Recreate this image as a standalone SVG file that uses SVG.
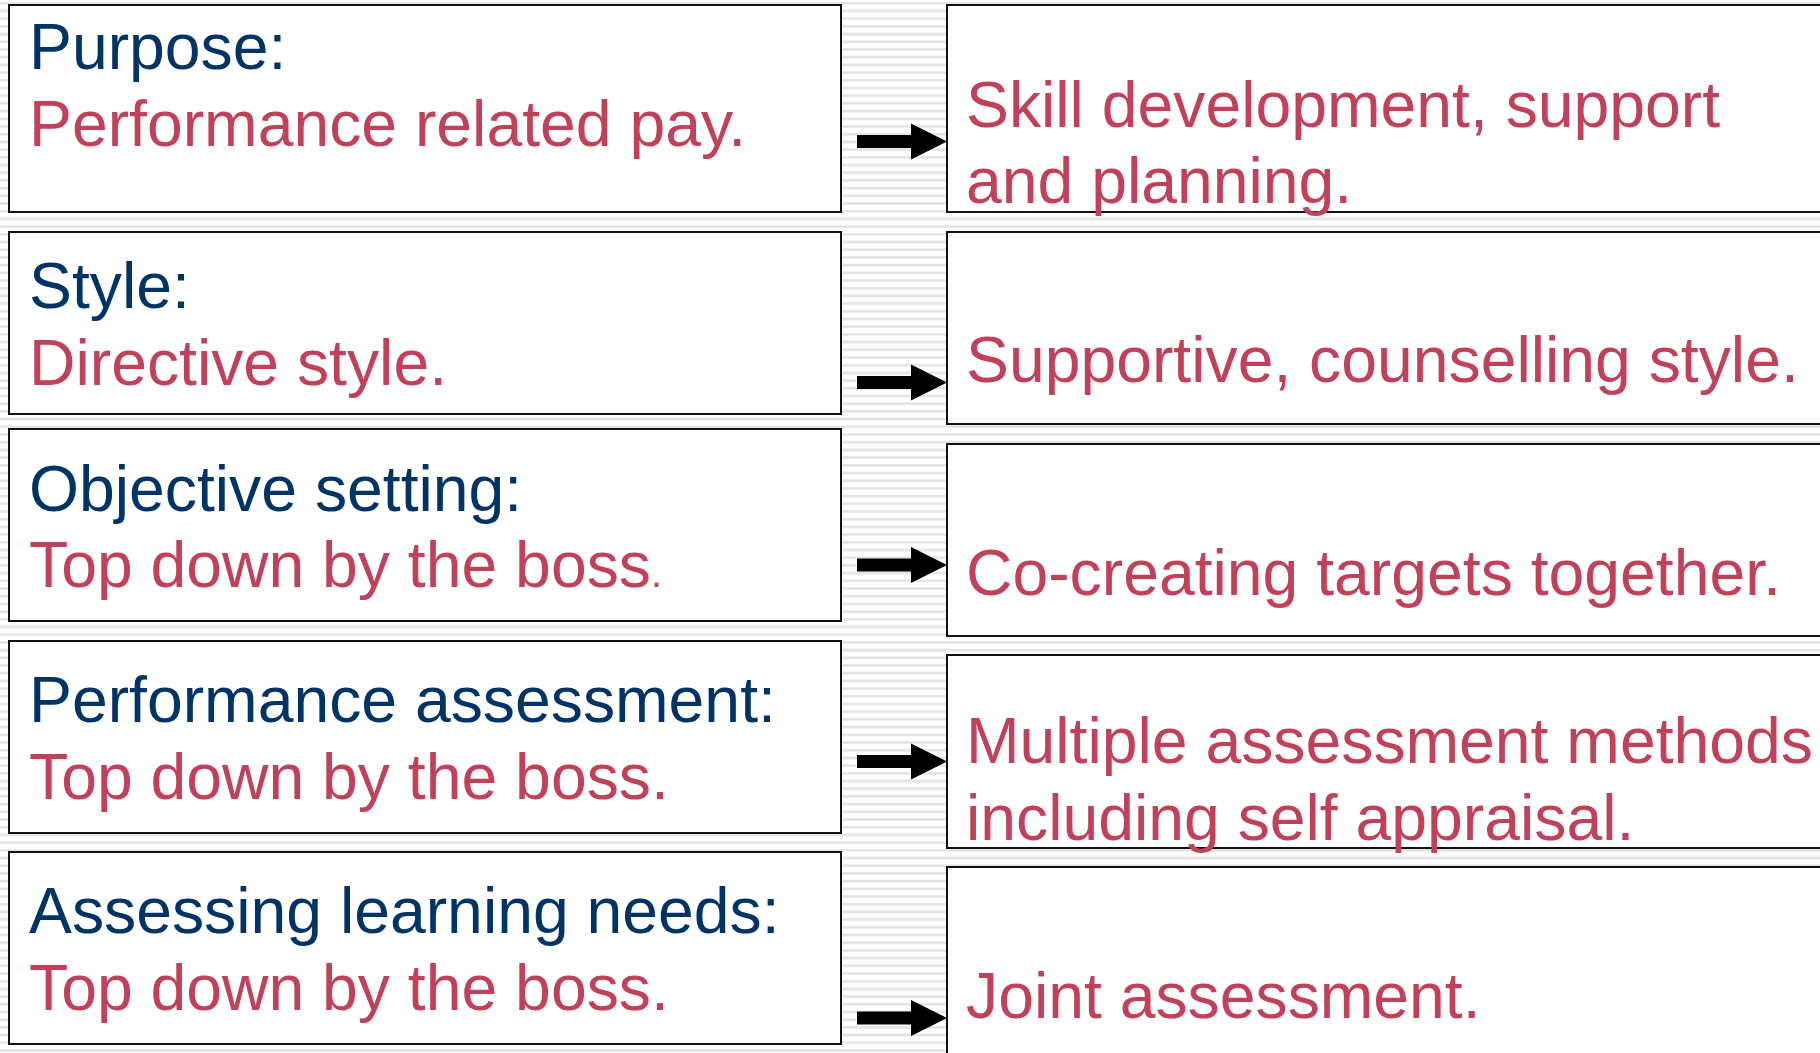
<svg xmlns="http://www.w3.org/2000/svg" width="1820" height="1053" viewBox="0 0 1820 1053">
  <defs>
    <!-- fine horizontal ruling used as page background -->
    <pattern id="ruling" x="0" y="0" width="16" height="7.7" patternUnits="userSpaceOnUse">
      <rect x="0" y="0" width="16" height="7.7" fill="#ffffff"/>
      <rect x="0" y="2" width="16" height="2.6" fill="#e4e4e4"/>
    </pattern>
    <!-- block arrow pointing right, tip at (0,0) -->
    <path id="arrow" d="M-90,-6.5 H-36 V-18 L0,0 L-36,18 V6.5 H-90 Z"/>
  </defs>
  <style>
    .box { fill: #ffffff; stroke: #111111; stroke-width: 2; }
    .t { font-family: "Liberation Sans", Arial, Helvetica, sans-serif; font-size: 64.3px; }
    .head { fill: #003366; }
    .body { fill: #c1415a; }
    .arr { fill: #000000; }
  </style>

  <rect x="0" y="0" width="1820" height="1053" fill="url(#ruling)"/>

  <!-- left column: current practice -->
  <g id="purpose-old">
    <rect class="box" x="9" y="5" width="832" height="207"/>
    <text class="t head" x="29" y="69">Purpose:</text>
    <text class="t body" x="29" y="146">Performance related pay.</text>
  </g>
  <g id="style-old">
    <rect class="box" x="9" y="232" width="832" height="182"/>
    <text class="t head" x="29" y="308">Style:</text>
    <text class="t body" x="29" y="385">Directive style.</text>
  </g>
  <g id="objective-old">
    <rect class="box" x="9" y="429" width="832" height="192"/>
    <text class="t head" x="29" y="511">Objective setting:</text>
    <text class="t body" x="29" y="587">Top down by the boss<tspan font-size="40">.</tspan></text>
  </g>
  <g id="assessment-old">
    <rect class="box" x="9" y="641" width="832" height="192"/>
    <text class="t head" x="29" y="722">Performance assessment:</text>
    <text class="t body" x="29" y="799">Top down by the boss.</text>
  </g>
  <g id="learning-old">
    <rect class="box" x="9" y="852" width="832" height="192"/>
    <text class="t head" x="29" y="933">Assessing learning needs:</text>
    <text class="t body" x="29" y="1010">Top down by the boss.</text>
  </g>

  <!-- right column: new practice -->
  <g id="purpose-new">
    <rect class="box" x="947" y="5" width="890" height="207"/>
    <text class="t body" x="966" y="127">Skill development, support</text>
    <text class="t body" x="966" y="203">and planning.</text>
  </g>
  <g id="style-new">
    <rect class="box" x="947" y="232" width="890" height="192"/>
    <text class="t body" x="966" y="382">Supportive, counselling style.</text>
  </g>
  <g id="objective-new">
    <rect class="box" x="947" y="444" width="890" height="192"/>
    <text class="t body" x="966" y="595">Co-creating targets together.</text>
  </g>
  <g id="assessment-new">
    <rect class="box" x="947" y="655" width="890" height="193"/>
    <text class="t body" x="966" y="763">Multiple assessment methods</text>
    <text class="t body" x="966" y="840">including self appraisal.</text>
  </g>
  <g id="learning-new">
    <rect class="box" x="947" y="867" width="890" height="200"/>
    <text class="t body" x="966" y="1018">Joint assessment.</text>
  </g>

  <!-- connectors -->
  <g id="connectors" class="arr">
    <use href="#arrow" x="947" y="141.5"/>
    <use href="#arrow" x="947" y="382.5"/>
    <use href="#arrow" x="947" y="565"/>
    <use href="#arrow" x="947" y="761.5"/>
    <use href="#arrow" x="947" y="1018"/>
  </g>
</svg>
